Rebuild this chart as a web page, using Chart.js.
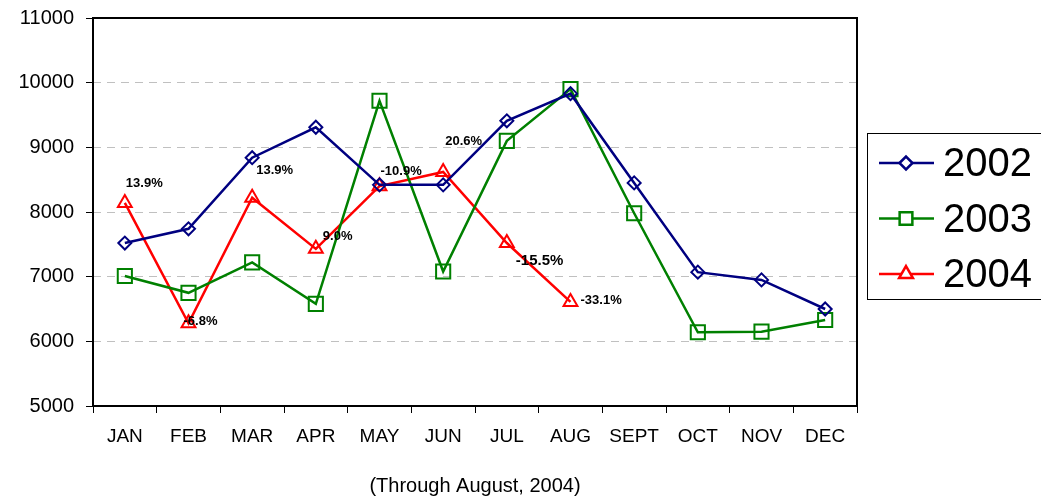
<!DOCTYPE html>
<html>
<head>
<meta charset="utf-8">
<script src="https://cdn.jsdelivr.net/npm/chart.js@4/dist/chart.umd.min.js"></script>
<style>
  html, body { margin: 0; padding: 0; background: #fff; }
  #wrap { width: 1041px; height: 502px; position: relative; }
</style>
</head>
<body>
<div id="wrap"><canvas id="chart" width="1041" height="502"></canvas></div>
<script>
const months = ["JAN", "FEB", "MAR", "APR", "MAY", "JUN", "JUL", "AUG", "SEPT", "OCT", "NOV", "DEC"];
const years = ["2002", "2003", "2004"];

const sales2002 = [7520, 7740, 8840, 9310, 8420, 8420, 9410, 9830, 8450, 7070, 6950, 6500];
const sales2003 = [7010, 6750, 7220, 6580, 9720, 7080, 9100, 9900, 7980, 6140, 6150, 6330];
const sales2004 = [8140, 6280, 8220, 7430, 8400, 8620, 7520, 6610];

// % change labels on the 2004 line
const changeLabels = ["13.9%", "-6.8%", "13.9%", "9.0%", "-10.9%", "20.6%", "-15.5%", "-33.1%"];

const yTicks = [5000, 6000, 7000, 8000, 9000, 10000, 11000];

const colors = ["#000080", "#008000", "#ff0000"];
const markers = ["rectRot", "rect", "triangle"];
const markerSize = [6.5, 10, 8];
const legendMarkerSize = [6.5, 9, 8];

// label offsets from the point (px), and font size
const labelOffsets = [[1, -20], [-5, -2], [4, -27], [7, -12], [1, -15], [2, -30], [9, 18], [10, -1]];
const labelSizes = [13, 13, 13, 13, 13, 13, 15, 13];

const series = [sales2002, sales2003, sales2004];

const frame = {
  id: "frame",
  beforeDatasetsDraw(chart) {
    const a = chart.chartArea;
    const ctx = chart.ctx;
    ctx.save();
    ctx.strokeStyle = "#000";
    ctx.lineWidth = 2;
    ctx.strokeRect(a.left, a.top, a.right - a.left, a.bottom - a.top);
    ctx.restore();
  }
};

const changeText = {
  id: "changeText",
  afterDatasetsDraw(chart) {
    const ctx = chart.ctx;
    const x = chart.scales.x, y = chart.scales.y;
    ctx.save();
    ctx.fillStyle = "#000";
    ctx.textAlign = "left";
    ctx.textBaseline = "middle";
    changeLabels.forEach((t, i) => {
      const px = x.getPixelForValue(i);
      const py = y.getPixelForValue(sales2004[i]);
      ctx.font = "bold " + labelSizes[i] + "px 'Liberation Sans', Arial, sans-serif";
      ctx.fillText(t, px + labelOffsets[i][0], py + labelOffsets[i][1]);
    });
    ctx.restore();
  }
};

const legendBox = {
  id: "legendBox",
  afterDraw(chart) {
    const ctx = chart.ctx;
    ctx.save();
    ctx.strokeStyle = "#000";
    ctx.lineWidth = 1;
    ctx.strokeRect(867.5, 133.5, 180, 166);
    ctx.font = "40px 'Liberation Sans', Arial, sans-serif";
    ctx.textBaseline = "middle";
    ctx.textAlign = "left";
    years.forEach((yr, i) => {
      const cy = 163 + i * 55.5;
      ctx.strokeStyle = colors[i];
      ctx.lineWidth = 2.5;
      ctx.beginPath();
      ctx.moveTo(879, cy);
      ctx.lineTo(934, cy);
      ctx.stroke();
      ctx.fillStyle = "#fff";
      Chart.helpers.drawPoint(ctx, {
        pointStyle: markers[i], radius: legendMarkerSize[i], rotation: 0, borderWidth: 2
      }, 906, cy);
      ctx.fillStyle = "#000";
      ctx.fillText(yr, 943, cy + 2);
    });
    ctx.restore();
  }
};

new Chart(document.getElementById("chart"), {
  type: "line",
  data: {
    labels: months,
    datasets: series.map((d, i) => ({
      label: years[i],
      data: d,
      borderColor: colors[i],
      backgroundColor: "rgba(0,0,0,0)",
      borderWidth: 2.5,
      pointStyle: markers[i],
      pointRadius: markerSize[i],
      pointHoverRadius: markerSize[i],
      pointBorderWidth: 2,
      pointBorderColor: colors[i],
      pointBackgroundColor: "rgba(0,0,0,0)",
      tension: 0,
      fill: false
    }))
  },
  options: {
    responsive: false,
    animation: false,
    layout: { padding: { top: 18, right: 184, left: 0, bottom: 0 } },
    plugins: {
      legend: { display: false },
      tooltip: { enabled: false }
    },
    scales: {
      x: {
        offset: true,
        grid: {
          offset: true,
          drawOnChartArea: false,
          tickLength: 7,
          tickColor: "#000",
          tickWidth: 1
        },
        border: { display: false },
        ticks: {
          color: "#000",
          padding: 12,
          font: { size: 19, family: "'Liberation Sans', Arial, sans-serif" }
        },
        title: {
          display: true,
          text: "(Through August, 2004)",
          color: "#000",
          padding: { top: 16 },
          font: { size: 20, family: "'Liberation Sans', Arial, sans-serif" }
        },
        afterFit: s => { s.height = 96; s.paddingLeft = 0; s.paddingRight = 0; }
      },
      y: {
        min: 5000,
        max: 11000,
        afterBuildTicks: s => { s.ticks = yTicks.map(v => ({ value: v })); },
        grid: {
          color: c => (c.tick && (c.tick.value === 5000 || c.tick.value === 11000)) ? "rgba(0,0,0,0)" : "#c0c0c0",
          tickBorderDash: [1, 0],
          tickLength: 7,
          tickColor: "#000",
          lineWidth: 1
        },
        border: { display: false, dash: [8, 6] },
        ticks: {
          color: "#000",
          padding: 12,
          callback: v => String(v),
          font: { size: 20, family: "'Liberation Sans', Arial, sans-serif" }
        },
        afterFit: s => { s.width = 93; s.paddingTop = 0; s.paddingBottom = 0; }
      }
    }
  },
  plugins: [frame, changeText, legendBox]
});
</script>
</body>
</html>
